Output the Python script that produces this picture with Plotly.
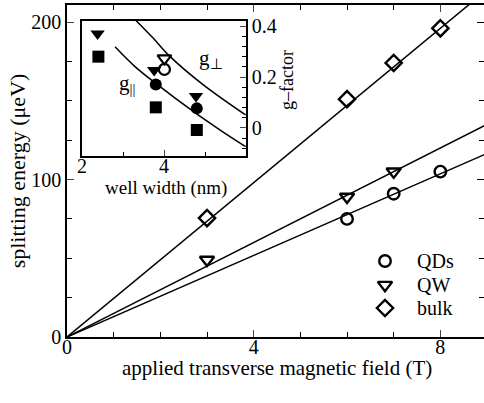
import plotly.graph_objects as go

# ---------------- data ----------------
field_qd = [6, 7, 8]
split_qd = [75, 91, 105]
field_qw = [3, 6, 7]
split_qw = [49, 89, 105]
field_bulk = [3, 6, 7, 8]
split_bulk = [75.5, 151, 174, 196]

# linear fits through origin (slopes in ueV/T)
fit_field = [0, 9]
slope_qd = 12.95
slope_qw = 15.0
slope_bulk = 24.5

# inset: g-factor vs well width
w_tri = [2.38, 3.76, 4.78]
g_tri = [0.37, 0.227, 0.125]
w_sq = [2.40, 3.80, 4.80]
g_sq = [0.28, 0.081, -0.008]
w_circ = [3.80, 4.80]
g_circ = [0.171, 0.077]
w_tri_open = [4.01]
g_tri_open = [0.273]
w_circ_open = [4.01]
g_circ_open = [0.23]

# theory curves
w_par = [2.805, 3.30, 3.80, 4.72, 5.37, 5.99]
g_par = [0.319, 0.240, 0.175, 0.064, -0.008, -0.073]
w_perp = [3.32, 3.74, 4.15, 4.96, 5.99]
g_perp = [0.421, 0.352, 0.280, 0.169, 0.051]

x_ticks = [0, 4, 8]
y_ticks = [0, 100, 200]
ix_ticks = [2, 4]
iy_ticks = [0, 0.2, 0.4]
iy_ticktext = ["0", "0.2", "0.4"]
legend_labels = ["QDs", "QW", "bulk"]

FONT = "Liberation Serif"
W, H = 484, 403
ML, MT, MB = 67, 5, 66
PW = W - ML
PH = H - MT - MB


def px(xp, yp):
    return (xp - ML) / PW, (MT + PH - yp) / PH


fig = go.Figure()

# fit lines
for s in [slope_qd, slope_qw, slope_bulk]:
    fig.add_trace(go.Scatter(x=fit_field, y=[s * f for f in fit_field], mode="lines",
                             line=dict(color="black", width=1.5), showlegend=False,
                             hoverinfo="skip"))

mk_line = dict(color="black", width=2.4)
sym = ["circle-open", "triangle-down-open", "diamond-open"]
sizes = [11.5, 12.5, 12.5]
for xs, ys, nm, sy, sz in zip([field_qd, field_qw, field_bulk], [split_qd, split_qw, split_bulk],
                              legend_labels, sym, sizes):
    fig.add_trace(go.Scatter(x=xs, y=ys, mode="markers", name=nm, showlegend=False,
                             marker=dict(symbol=sy, size=sz, color="black", line=mk_line)))

# inset traces
ins = dict(xaxis="x2", yaxis="y2", showlegend=False)
fig.add_trace(go.Scatter(x=w_par, y=g_par, mode="lines", line=dict(color="black", width=1.5, shape="spline"), **ins))
fig.add_trace(go.Scatter(x=w_perp, y=g_perp, mode="lines", line=dict(color="black", width=1.5, shape="spline"), **ins))
fig.add_trace(go.Scatter(x=w_tri, y=g_tri, mode="markers", marker=dict(symbol="triangle-down", size=12.5, color="black"), **ins))
fig.add_trace(go.Scatter(x=w_sq, y=g_sq, mode="markers", marker=dict(symbol="square", size=12, color="black"), **ins))
fig.add_trace(go.Scatter(x=w_circ, y=g_circ, mode="markers", marker=dict(symbol="circle", size=12, color="black"), **ins))
fig.add_trace(go.Scatter(x=w_tri_open, y=g_tri_open, mode="markers",
                         marker=dict(symbol="triangle-down-open", size=12, color="black", line=dict(color="black", width=2.2)), **ins))
fig.add_trace(go.Scatter(x=w_circ_open, y=g_circ_open, mode="markers",
                         marker=dict(symbol="circle-open", size=11, color="black", line=dict(color="black", width=2.2)), **ins))
# dummy trace to show right-side ticks of main frame
fig.add_trace(go.Scatter(x=[0], y=[0], yaxis="y3", mode="markers", marker=dict(opacity=0), showlegend=False, hoverinfo="skip"))

# manual legend (pixel-coordinate overlay axes)
leg_x = 385
leg_y = [261, 285, 308]
for nm, sy, sz, ly in zip(legend_labels, sym, sizes, leg_y):
    fig.add_trace(go.Scatter(x=[leg_x], y=[ly], xaxis="x4", yaxis="y4", mode="markers", showlegend=False,
                             hoverinfo="skip",
                             marker=dict(symbol=sy, size=sz, color="black", line=mk_line)))

tickfont = dict(family=FONT, size=20, color="black")

ix0, iy1 = px(82, 21)
ix1, iy0 = px(246, 156)

fig.update_layout(
    width=W, height=H,
    margin=dict(l=ML, r=0, t=MT, b=MB, autoexpand=False),
    paper_bgcolor="white", plot_bgcolor="white",
    font=dict(family=FONT, size=18, color="black"),
    xaxis=dict(range=[0, 8.935], tickvals=x_ticks, ticks="inside", ticklen=7,
               tickwidth=1.3, showline=True, linewidth=1.6, linecolor="black", mirror="ticks",
               showgrid=False, zeroline=False, tickfont=tickfont,
               minor=dict(dtick=1, ticks="inside", ticklen=5, tickwidth=1.3, tickcolor="black")),
    yaxis=dict(range=[0, 210.8], tickvals=y_ticks, ticks="inside", ticklen=7,
               tickwidth=1.3, showline=True, linewidth=1.6, linecolor="black", mirror=False,
               showgrid=False, zeroline=False, tickfont=tickfont, ticklabelstandoff=0,
               minor=dict(dtick=25, ticks="inside", ticklen=5, tickwidth=1.3, tickcolor="black"),
               title=dict(text="splitting energy (μeV)", font=dict(family=FONT, size=22), standoff=0)),
    yaxis3=dict(range=[0, 210.8], overlaying="y", side="right", tickvals=y_ticks, ticks="inside",
                ticklen=7, tickwidth=1.3, tickcolor="black", showticklabels=False, showline=False,
                showgrid=False, zeroline=False,
                minor=dict(dtick=25, ticks="inside", ticklen=5, tickwidth=1.3, tickcolor="black")),
    xaxis2=dict(domain=[ix0, ix1], anchor="y2", range=[2, 6], tickvals=ix_ticks,
                ticks="inside", ticklen=6, tickwidth=1.2, showline=True, linewidth=1.5, linecolor="black",
                mirror=True, showgrid=False, zeroline=False,
                tickfont=dict(family=FONT, size=20, color="black"),
                minor=dict(tickvals=[3, 5], ticks="inside", ticklen=4, tickwidth=1.2, tickcolor="black")),
    yaxis2=dict(domain=[iy0, iy1], anchor="x2", side="right", range=[-0.11, 0.42], tickvals=iy_ticks,
                ticktext=iy_ticktext, ticks="inside", ticklen=6, tickwidth=1.2, showline=True,
                linewidth=1.5, linecolor="black", mirror=True, showgrid=False, zeroline=False,
                tickfont=dict(family=FONT, size=20, color="black"), ticklabelstandoff=0,
                minor=dict(dtick=0.04, tick0=0, ticks="inside", ticklen=4, tickwidth=1.2, tickcolor="black")),
    xaxis4=dict(overlaying="x", anchor="y4", range=[ML, W], visible=False, fixedrange=True),
    yaxis4=dict(overlaying="y", anchor="x4", range=[MT + PH, MT], visible=False, fixedrange=True),
    showlegend=False,
)

# pull x tick labels up toward the axis
try:
    fig.update_layout(xaxis_ticklabelstandoff=-9, xaxis2_ticklabelstandoff=-9)
except ValueError:
    pass

# dashed zero line in inset
fig.add_shape(type="line", xref="x2 domain", x0=0, x1=1, yref="y2", y0=0, y1=0,
              line=dict(color="gray", width=1.3, dash="dash"), layer="below")

ann = []
def add_text(t, xp, yp, size=18, angle=0, xanchor="center"):
    x, y = px(xp, yp)
    ann.append(dict(text=t, x=x, y=y, xref="paper", yref="paper", showarrow=False,
                    font=dict(family=FONT, size=size, color="black"), textangle=angle,
                    xanchor=xanchor, yanchor="middle"))

add_text("applied transverse magnetic field (T)", 277, 368, 21)
add_text("well width (nm)", 166, 188, 19)
add_text("g–factor", 287, 80, 18, -90)
add_text("g<sub>⊥</sub>", 211, 59, 21)
add_text("g<sub>||</sub>", 127, 84, 21)
for nm, ly in zip(legend_labels, leg_y):
    add_text(nm, 415, ly, 20, xanchor="left")
fig.update_layout(annotations=ann)

fig.write_html("out.html", config={"displayModeBar": False},
               post_script="document.body.style.margin='0';document.body.style.overflow='hidden';")
